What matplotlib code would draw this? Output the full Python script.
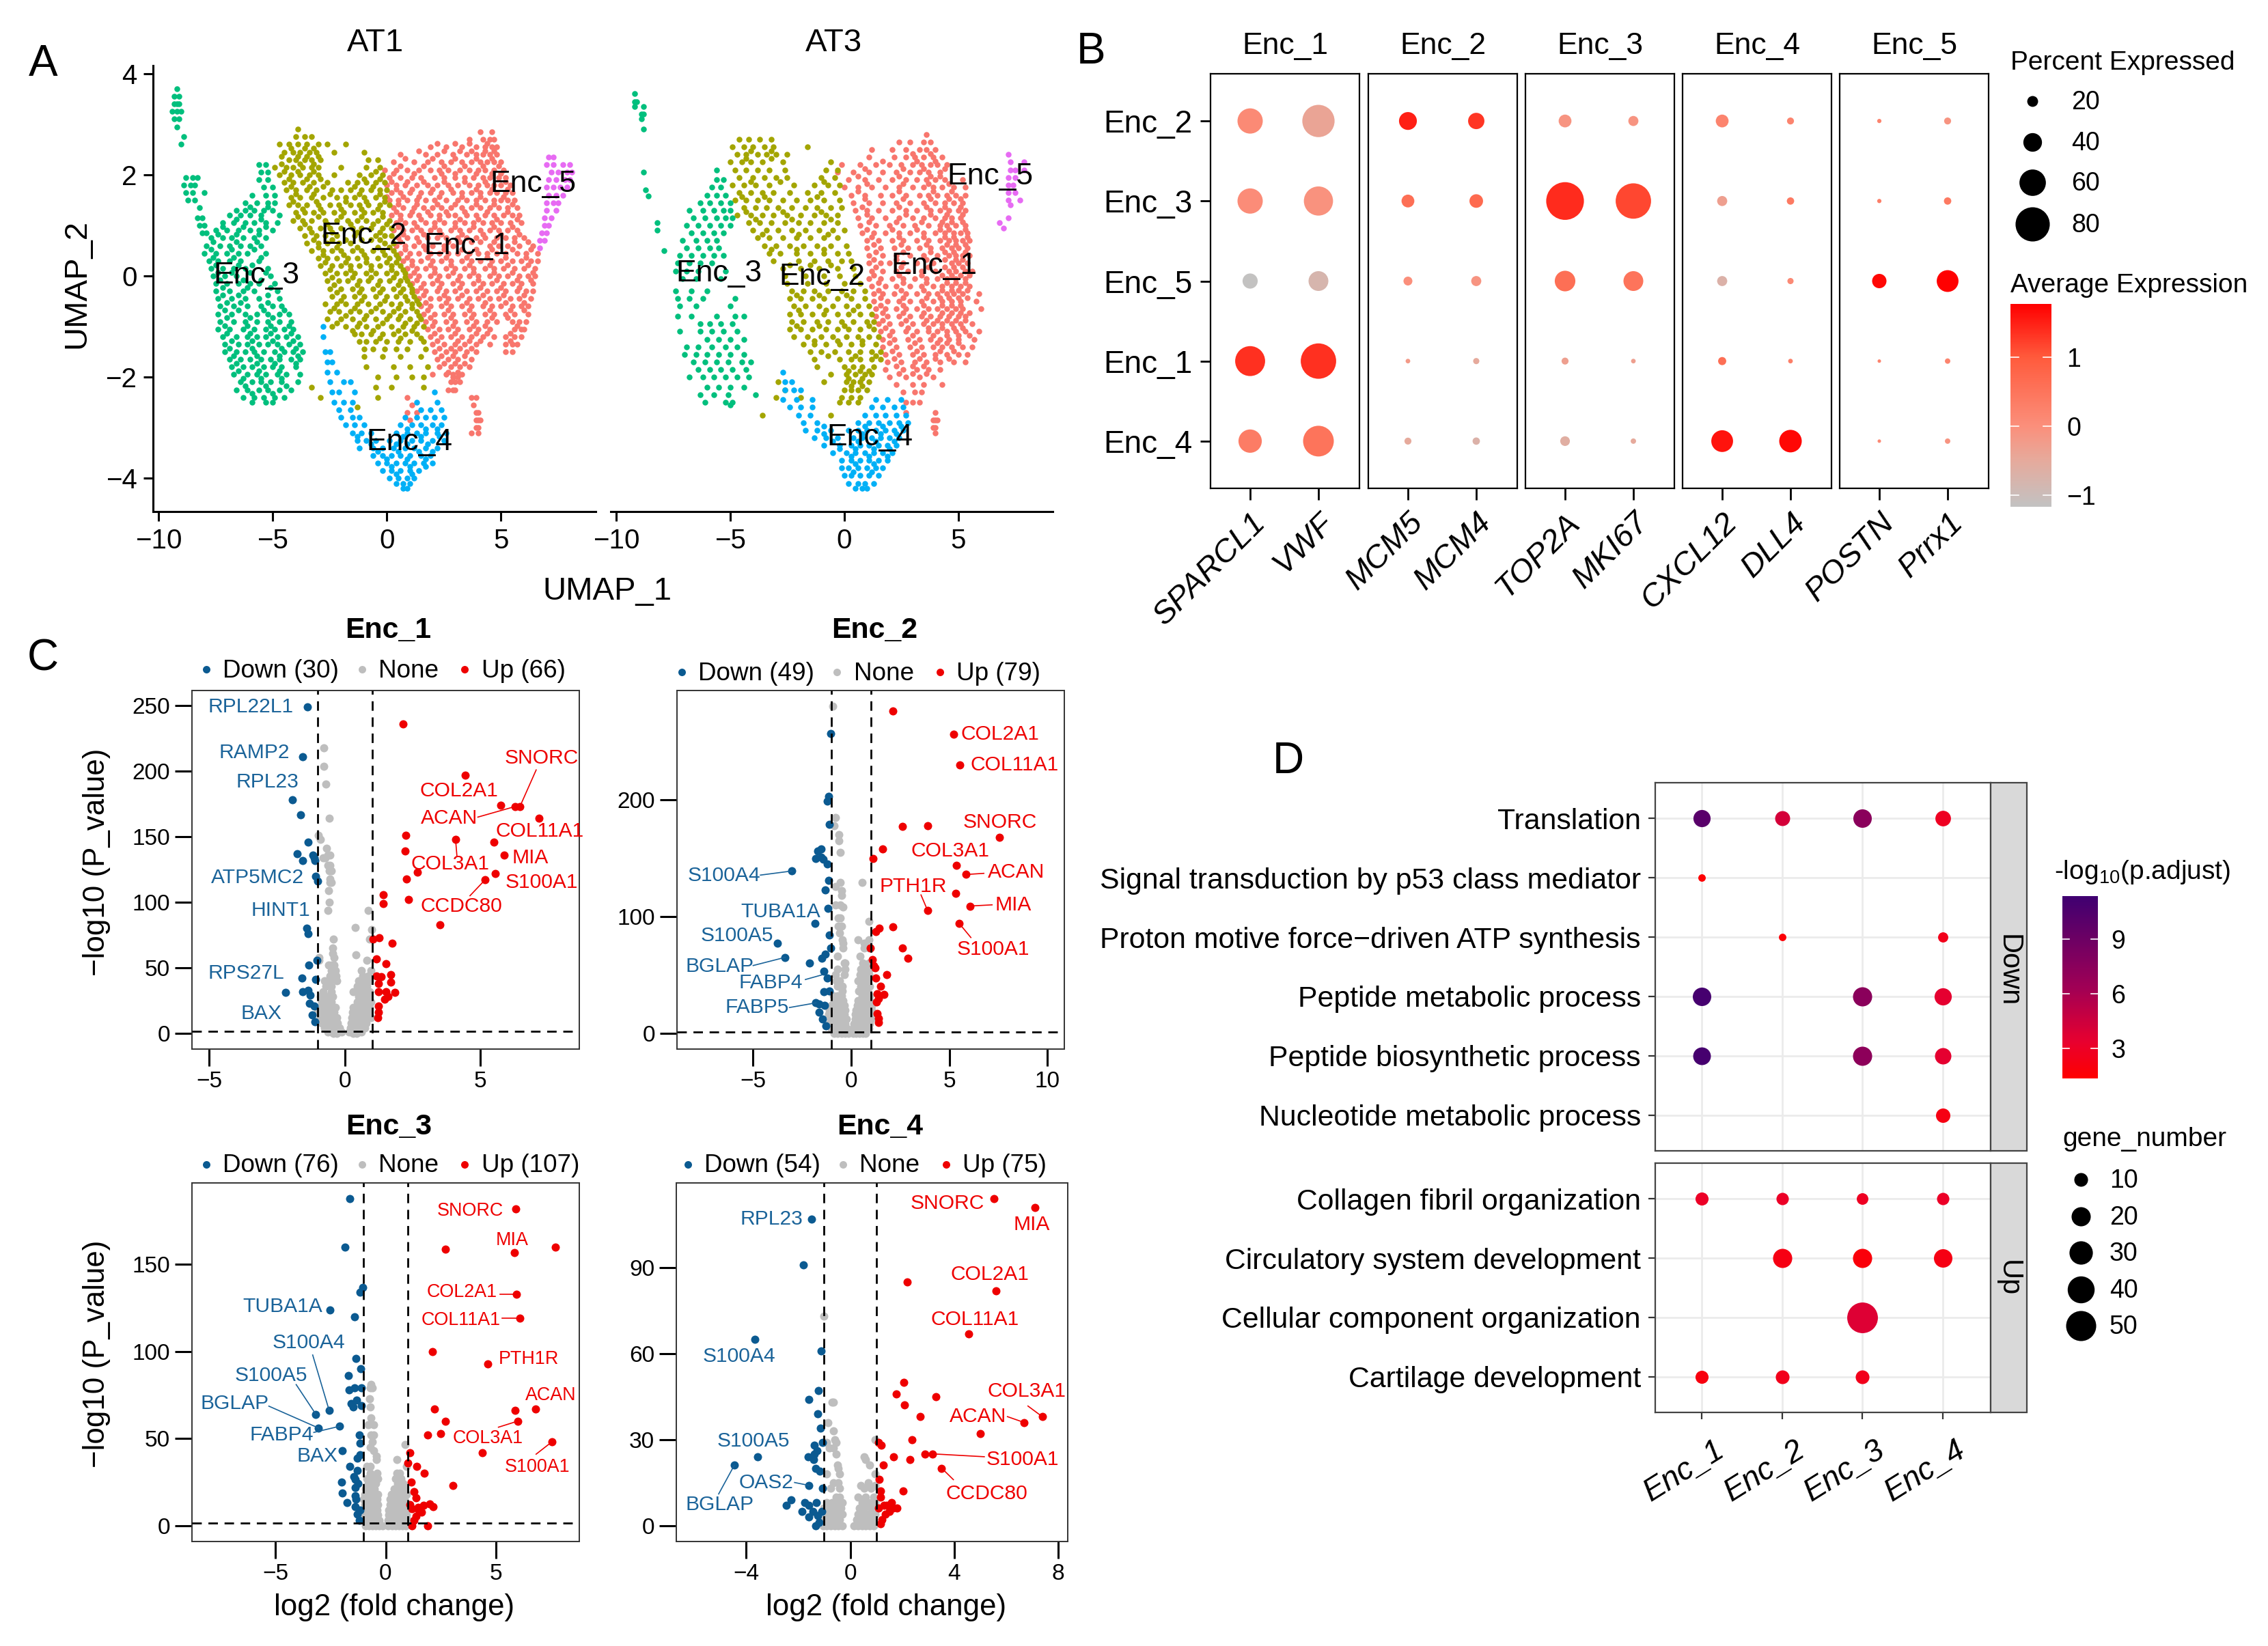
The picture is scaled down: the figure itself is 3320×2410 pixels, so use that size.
# plot.py
# Four panel figure: UMAP (A), marker dot plot (B), volcano plots (C), GO dot plot (D).

import numpy as np
import matplotlib
matplotlib.use("Agg")
import matplotlib.pyplot as plt
from matplotlib.cm import ScalarMappable
from matplotlib.colors import LinearSegmentedColormap, Normalize
from matplotlib.patches import Rectangle
from matplotlib.transforms import ScaledTranslation

plt.rcParams["font.family"] = ["Liberation Sans", "DejaVu Sans"]
plt.rcParams["mathtext.fontset"] = "custom"
plt.rcParams["mathtext.rm"] = "Liberation Sans"
plt.rcParams["mathtext.default"] = "regular"

W, H, DPI = 3320, 2410, 200

# ---- panel A, rows of {y: [x, ...]} ----
at1_enc1 = {
    2.85: [4.1, 4.6], 2.7: [3.6, 4.2, 4.5, 4.7], 2.55: [1.9, 2.6, 3.3, 3.9, 4.3, 4.6, 4.8],
    2.4: [0.6, 1.7, 2.2, 2.9, 3.5, 3.9, 4.2, 4.5, 4.8],
    2.25: [0.3, 1.2, 1.8, 2.4, 2.8, 3.3, 3.7, 4.1, 4.4, 4.7, 5.0],
    2.1: [-0.1, 0.4, 0.9, 1.4, 1.9, 2.3, 2.7, 3.2, 3.6, 4.0, 4.3, 4.7, 5.1],
    1.95: [0.1, 0.6, 1.1, 1.5, 2.1, 2.5, 3.0, 3.4, 3.8, 4.2, 4.5, 4.9, 5.2],
    1.8: [0.0, 0.4, 0.8, 1.3, 1.8, 2.2, 2.7, 3.1, 3.6, 4.0, 4.4, 4.7, 5.0, 5.4],
    1.65: [0.2, 0.6, 1.0, 1.5, 1.9, 2.4, 2.9, 3.3, 3.7, 4.1, 4.5, 4.8, 5.2, 5.5],
    1.5: [0.1, 0.5, 0.9, 1.3, 1.7, 2.1, 2.6, 3.1, 3.5, 3.9, 4.3, 4.7, 5.0, 5.3, 5.6],
    1.35: [0.3, 0.7, 1.2, 1.6, 2.0, 2.4, 2.8, 3.3, 3.7, 4.1, 4.5, 4.9, 5.3, 5.7],
    1.2: [0.2, 0.6, 1.0, 1.4, 1.9, 2.3, 2.7, 3.0, 3.5, 3.9, 4.3, 4.7, 5.1, 5.5, 5.8],
    1.05: [0.4, 0.8, 1.2, 1.7, 2.1, 2.5, 3.0, 3.4, 3.8, 4.2, 4.6, 5.0, 5.4, 5.9],
    0.9: [0.3, 0.7, 1.1, 1.5, 1.9, 2.3, 2.8, 3.2, 3.6, 4.1, 4.5, 4.9, 5.3, 5.7],
    0.75: [0.5, 0.9, 1.3, 1.8, 2.2, 2.6, 3.1, 3.5, 3.9, 4.3, 4.8, 5.2, 5.6, 6.0],
    0.6: [0.4, 0.8, 1.2, 1.6, 2.0, 2.5, 2.9, 4.5, 4.9, 5.3, 5.8, 6.4],
    0.45: [0.6, 1.0, 1.4, 1.9, 2.3, 2.7, 3.1, 3.6, 4.0, 4.4, 4.8, 5.2, 5.7, 6.1, 6.6],
    0.3: [0.7, 1.1, 1.5, 2.0, 2.4, 2.8, 3.3, 3.7, 4.1, 4.6, 5.0, 5.5, 5.9, 6.3, 6.6],
    0.15: [0.9, 1.3, 1.7, 2.1, 2.6, 3.0, 3.4, 3.8, 4.3, 4.7, 5.1, 5.6, 6.0, 6.5],
    0.0: [1.0, 1.4, 1.9, 2.3, 2.7, 3.2, 3.6, 4.0, 4.5, 4.9, 5.3, 5.8, 6.2, 6.5],
    -0.15: [1.1, 1.6, 2.0, 2.4, 2.9, 3.3, 3.8, 4.2, 4.6, 5.1, 5.5, 5.9, 6.4],
    -0.3: [1.3, 1.7, 2.2, 2.6, 3.0, 3.5, 3.9, 4.4, 4.8, 5.2, 5.7, 6.1, 6.4],
    -0.45: [1.4, 1.9, 2.3, 2.7, 3.1, 3.6, 4.0, 4.5, 4.9, 5.4, 5.8, 6.3],
    -0.6: [1.5, 1.9, 2.4, 2.8, 3.3, 3.7, 4.2, 4.6, 5.0, 5.5, 5.9, 6.2],
    -0.75: [1.6, 2.1, 2.5, 2.9, 3.4, 3.8, 4.3, 4.7, 5.2, 5.6, 6.2],
    -0.9: [1.7, 2.1, 2.6, 3.0, 3.5, 3.9, 4.4, 4.8, 5.5, 5.8, 6.1],
    -1.05: [1.8, 2.3, 2.7, 3.1, 3.6, 4.0, 4.5, 5.6, 5.9, 6.0],
    -1.2: [1.9, 2.4, 2.8, 3.3, 3.7, 4.2, 4.7, 5.2, 5.6, 5.9],
    -1.35: [2.0, 2.5, 3.0, 3.4, 3.9, 4.5, 5.2, 5.5, 5.7],
    -1.5: [2.1, 2.6, 3.0, 3.5, 3.9, 5.2, 5.5],
    -1.65: [2.2, 2.7, 3.1, 3.7], -1.8: [2.3, 2.8, 3.2, 3.6], -1.95: [2.0, 2.6, 2.9, 3.3],
    -2.1: [2.8, 3.0, 3.2], -2.25: [2.7, 2.9, 3.0], -2.4: [0.9, 3.7, 3.9], -2.55: [1.1, 3.8],
    -2.7: [0.9, 1.3, 3.9, 4.0], -2.85: [1.0, 3.9, 4.0, 4.1], -3.0: [3.9, 4.0], -3.1: [3.7, 4.0],
}
at1_enc1_fill = {
    2.62: [2.2, 3.0, 3.6, 4.4], 2.47: [1.4, 2.5, 3.2, 3.7, 4.3, 4.7], 2.32: [0.8, 2.0, 3.0, 3.9, 4.6], 2.17: [0.6, 1.6, 2.5, 3.4, 4.2, 4.9],
    2.02: [0.3, 1.2, 2.4, 3.0, 3.9, 4.6, 5.0], 1.87: [0.2, 0.9, 1.6, 2.5, 3.4, 4.3, 5.2], 1.72: [0.4, 1.1, 2.0, 2.8, 3.9, 4.6, 5.3],
    1.57: [0.0, 0.7, 1.4, 2.3, 3.3, 4.1, 5.1], 1.42: [0.5, 1.3, 2.2, 3.0, 3.9, 4.7, 5.5], 1.27: [0.4, 1.1, 1.8, 2.6, 3.4, 4.4, 5.3],
    1.12: [0.6, 1.5, 2.3, 3.2, 4.0, 4.8, 5.7], 0.97: [0.5, 1.3, 2.1, 3.0, 3.8, 4.7, 5.5], 0.82: [0.7, 1.6, 2.4, 3.3, 4.2, 5.0, 5.8],
    0.67: [0.6, 1.4, 2.7, 3.2, 3.7, 4.1, 4.7, 5.6, 6.2], 0.52: [0.8, 1.7, 2.5, 3.3, 3.9, 4.6, 5.5, 6.3], 0.37: [0.9, 1.8, 2.6, 3.5, 4.4, 5.2, 6.1],
    0.22: [1.1, 1.9, 2.8, 3.6, 4.5, 5.3, 6.2], 0.07: [1.2, 2.1, 2.9, 3.8, 4.7, 5.5, 6.4], -0.08: [1.3, 2.2, 3.1, 4.0, 4.8, 5.7, 6.3],
    -0.23: [1.5, 2.3, 3.2, 4.1, 5.0, 5.8], -0.38: [1.6, 2.5, 3.3, 4.2, 5.1, 6.0], -0.53: [1.7, 2.6, 3.5, 4.3, 5.2, 6.0], -0.68: [1.8, 2.7, 3.6, 4.5, 5.4, 6.0],
    -0.83: [1.9, 2.8, 3.7, 4.6, 5.3], -0.98: [2.0, 2.9, 3.8, 4.3, 5.7], -1.13: [2.1, 3.0, 3.9, 4.4, 5.4], -1.28: [2.2, 3.1, 3.6, 4.1, 5.4],
    -1.43: [2.3, 2.8, 3.2, 3.7], -1.58: [2.4, 2.9, 3.4], -1.73: [2.5, 3.0, 3.4], -1.9: [2.7, 3.1], -2.0: [2.9, 3.1],
}
at1_enc2 = {
    2.9: [-3.9], 2.75: [-4.0, -3.6, -3.3], 2.6: [-4.7, -4.3, -3.9, -3.5, -3.0, -2.6, -1.8],
    2.45: [-4.5, -4.1, -3.8, -3.4, -3.1, -2.3, -1.0], 2.3: [-4.3, -4.0, -3.6, -3.3, -2.9, -0.8, -0.4],
    2.15: [-4.9, -4.4, -4.1, -3.7, -3.3, -3.0, -2.0, -0.9, -0.3], 2.0: [-4.7, -4.2, -3.8, -3.4, -3.0, -2.3, -1.2, -0.7, -0.2],
    1.85: [-4.5, -4.1, -3.7, -3.2, -2.6, -1.7, -1.3, -0.9, -0.5, -0.1],
    1.7: [-4.4, -4.0, -3.5, -3.1, -2.4, -2.0, -1.6, -1.1, -0.7, -0.3, 0.0],
    1.55: [-4.2, -3.8, -3.3, -2.8, -2.2, -1.8, -1.4, -1.0, -0.5, -0.1],
    1.4: [-4.3, -3.9, -3.5, -3.0, -2.5, -2.1, -1.6, -1.2, -0.8, -0.3, 0.1],
    1.25: [-4.0, -3.6, -3.2, -2.8, -2.3, -1.9, -1.4, -1.0, -0.6, -0.2],
    1.1: [-4.1, -3.7, -3.3, -2.7, -2.2, -1.7, -1.3, -0.9, -0.4, 0.1],
    0.95: [-3.8, -3.4, -2.9, -2.5, -2.0, -1.5, -1.1, -0.7, -0.2, 0.2],
    0.8: [-3.6, -3.1, -2.7, -2.2, -1.4, -0.1, -0.5, 0.2], 0.65: [-3.5, -3.0, -2.6, -2.1, -1.6, -0.1, 0.3],
    0.5: [-3.3, -2.8, -2.4, -2.0, -1.5, -1.1, -0.6, -0.2, 0.3],
    0.35: [-3.0, -2.6, -2.2, -1.7, -1.3, -0.9, -0.4, 0.1, 0.5],
    0.2: [-2.9, -2.4, -2.0, -1.6, -1.2, -0.7, -0.3, 0.2, 0.6],
    0.05: [-2.7, -2.2, -1.8, -1.4, -0.9, -0.5, 0.0, 0.4, 0.8],
    -0.1: [-2.6, -2.1, -1.7, -1.2, -0.8, -0.3, 0.1, 0.6, 0.9],
    -0.25: [-2.5, -2.0, -1.5, -1.1, -0.6, -0.2, 0.3, 0.7, 1.1],
    -0.4: [-2.4, -1.9, -1.4, -1.0, -0.5, 0.0, 0.4, 0.8, 1.2],
    -0.55: [-2.7, -2.2, -1.8, -1.3, -0.8, -0.3, 0.2, 0.6, 1.1, 1.4],
    -0.7: [-2.5, -2.1, -1.6, -1.2, -0.7, -0.2, 0.3, 0.8, 1.3],
    -0.85: [-2.6, -2.0, -1.5, -1.0, -0.5, 0.0, 0.5, 1.0, 1.5],
    -1.0: [-2.4, -1.8, -1.3, -0.9, -0.4, 0.2, 0.7, 1.2, 1.6],
    -1.15: [-1.4, -1.1, -0.7, -0.2, 0.3, 0.8, 1.3], -1.3: [-1.2, -0.9, -0.5, 0.0, 0.5, 1.0, 1.6],
    -1.45: [-1.0, -0.6, -0.1, 0.4, 0.9, 1.7], -1.6: [-1.0, -0.2, 0.6, 1.5], -1.8: [-0.9, 0.3, 1.0, 1.8],
    -2.0: [-0.4, 0.4, 1.1, 1.6], -2.2: [-3.3, -0.5, 0.2, 1.6], -2.4: [-2.9, -0.4], -2.6: [-1.3],
}
at1_enc2_fill = {
    2.52: [-4.2, -3.6, -3.2], 2.37: [-4.6, -3.9, -3.5, -3.0], 2.22: [-4.6, -3.8, -3.2], 2.07: [-4.5, -3.9, -3.2, -0.5], 1.92: [-4.3, -3.5, -2.9, -1.0, -0.3],
    1.77: [-4.2, -3.4, -2.8, -1.4, -0.6], 1.62: [-4.0, -3.2, -2.5, -1.2, -0.3], 1.47: [-4.1, -3.1, -1.8, -0.9, -0.1], 1.32: [-3.7, -2.9, -2.0, -1.1, -0.4],
    1.17: [-3.9, -3.0, -2.0, -1.1, -0.2], 1.02: [-3.6, -2.6, -1.6, -0.6, 0.0], 0.87: [-3.3, -2.4, -1.3, -0.3], 0.72: [-3.2, -2.4, -1.8, -1.1, -0.7, -0.3],
    0.57: [-3.0, -2.2, -1.3, -0.4, 0.1], 0.42: [-2.8, -1.9, -1.0, -0.1, 0.4], 0.27: [-2.7, -1.8, -0.9, 0.0, 0.4], 0.12: [-2.5, -1.6, -0.7, 0.2, 0.7],
    -0.03: [-2.4, -1.5, -0.7, 0.3, 0.8], -0.18: [-2.3, -1.3, -0.4, 0.5, 1.0], -0.33: [-2.2, -1.2, -0.3, 0.6, 1.1], -0.48: [-2.0, -1.1, -0.1, 0.9, 1.3],
    -0.63: [-2.3, -1.4, -0.5, 0.5, 1.1], -0.78: [-1.8, -0.9, 0.1, 0.6, 1.4], -0.93: [-2.2, -1.2, -0.2, 0.8, 1.3], -1.08: [-1.5, -0.6, 0.5, 1.1], -1.23: [-0.3, 0.6, 1.5],
}
at1_enc3 = {
    3.7: [-9.2], 3.55: [-9.3, -9.1], 3.4: [-9.3, -9.2, -9.1], 3.25: [-9.4, -9.2, -9.0],
    3.1: [-9.3, -9.1], 2.95: [-9.2], 2.75: [-8.9], 2.6: [-9.0],
    1.95: [-8.8, -8.5, -8.3], 1.8: [-8.9, -8.6, -8.4], 1.65: [-8.8, -8.5, -8.0], 1.5: [-8.7, -8.4], 1.35: [-8.2],
    1.15: [-8.3, -8.1], 1.0: [-8.2, -8.0], 0.85: [-8.1, -7.9],
    2.2: [-5.6, -5.3], 2.05: [-5.5, -5.2], 1.9: [-5.6, -5.2], 1.75: [-5.4, -5.0], 1.6: [-5.9, -5.3, -4.9],
    1.45: [-6.2, -5.7, -5.2, -4.9], 1.3: [-6.6, -6.2, -5.8, -5.4, -5.0], 1.2: [-6.9, -6.4, -6.0, -5.5, -4.7],
    1.05: [-7.2, -6.7, -6.2, -5.8, -5.3, -4.8], 0.9: [-7.5, -7.0, -6.5, -6.0, -5.6, -5.0],
    0.75: [-7.7, -7.2, -6.8, -6.3, -5.8, -5.3], 0.6: [-7.9, -7.3, -6.9, -6.4, -6.0, -5.5],
    0.45: [-8.0, -7.5, -7.0, -6.5, -6.1, -5.3], 0.3: [-7.8, -7.4, -6.9, -6.4, -5.6], 0.15: [-7.7, -7.2, -6.7, -6.2, -5.2],
    0.0: [-7.6, -7.1, -6.6, -5.1], -0.15: [-7.5, -7.0, -6.5, -6.0, -5.6, -4.9], -0.3: [-7.5, -6.9, -6.3, -5.8, -4.8],
    -0.45: [-7.4, -6.8, -6.2, -5.6, -4.7], -0.6: [-7.3, -6.7, -6.1, -5.5, -5.0, -4.6],
    -0.75: [-7.4, -6.8, -6.2, -5.7, -5.2, -4.7, -4.3], -0.9: [-7.3, -6.7, -6.2, -5.7, -5.2, -4.7, -4.2],
    -1.05: [-7.4, -6.9, -6.3, -5.8, -5.3, -4.9, -4.5, -4.1], -1.2: [-7.2, -6.6, -6.1, -5.7, -5.3, -4.8, -4.4, -3.9],
    -1.35: [-7.1, -6.5, -6.1, -5.6, -5.2, -4.8, -4.3, -3.8], -1.5: [-7.1, -6.6, -6.2, -5.8, -5.4, -4.9, -4.5, -4.1, -3.7],
    -1.65: [-6.9, -6.4, -6.0, -5.5, -5.1, -4.7, -4.2, -3.8], -1.8: [-6.8, -6.3, -5.9, -5.4, -5.0, -4.6, -4.0],
    -1.95: [-6.7, -6.1, -5.7, -5.3, -4.8, -4.4, -3.8], -2.1: [-6.4, -5.9, -5.5, -5.1, -4.6, -3.9],
    -2.25: [-6.6, -6.1, -5.6, -5.2, -4.7, -4.2], -2.4: [-6.3, -5.8, -5.4, -4.9, -4.5], -2.5: [-5.9, -5.3, -5.0],
}
at1_enc3_fill = {
    1.37: [-6.0, -5.2], 1.12: [-6.6, -5.5], 0.97: [-7.2, -6.3, -5.3], 0.82: [-7.4, -6.6, -5.6], 0.67: [-7.6, -6.6, -5.7], 0.52: [-7.7, -6.8, -5.8],
    0.37: [-7.6, -6.7, -5.5], 0.22: [-7.5, -6.5, -5.9], 0.07: [-7.4, -6.8, -6.0, -5.3], -0.08: [-7.3, -6.3, -5.5], -0.23: [-7.2, -6.1, -5.1], -0.38: [-7.2, -6.5, -5.2],
    -0.53: [-7.0, -6.4, -5.2], -0.68: [-7.1, -6.5, -5.4, -4.5], -0.83: [-7.0, -6.0, -5.0], -0.98: [-7.1, -6.1, -5.1, -4.3], -1.13: [-7.0, -6.0, -5.1, -4.2],
    -1.28: [-6.8, -5.9, -5.0, -4.1], -1.43: [-6.9, -5.9, -4.6, -4.0], -1.58: [-6.7, -5.7, -4.7, -3.9], -1.73: [-6.6, -5.7, -4.9, -4.0], -1.88: [-6.5, -5.6, -4.7],
    -2.03: [-6.3, -5.5, -4.6], -2.18: [-6.2, -5.3, -4.4], -2.33: [-5.9, -5.0],
}
at1_enc4 = {
    -1.0: [-2.8], -1.2: [-2.8], -1.5: [-2.7, -2.5], -1.7: [-2.6, -2.4], -1.9: [-2.6, -2.2], -2.1: [-2.5, -1.9, -1.6],
    -2.3: [-2.4, -2.1, -1.4, 2.1], -2.5: [-2.3, -1.9, -1.5, 1.3, 2.2], -2.65: [-2.1, -1.6, 1.5, 1.9, 2.4],
    -2.8: [-2.0, -1.5, -1.2, 0.8, 1.3, 1.7, 2.1, 2.5], -2.95: [-1.8, -1.4, -1.0, 0.6, 1.1, 1.5, 2.0, 2.4],
    -3.1: [-1.5, -1.1, -0.7, 0.4, 0.9, 1.3, 1.7, 2.2, 2.6], -3.25: [-1.3, -0.9, -0.5, 0.1, 0.6, 1.1, 1.5, 2.0, 2.5],
    -3.4: [-1.2, -0.6, -0.2, 0.3, 0.8, 1.2, 1.7, 2.2], -3.55: [-0.6, -0.2, 0.2, 0.6, 1.0, 1.5, 1.9],
    -3.7: [-0.4, 0.0, 0.4, 0.8, 1.2, 1.6, 2.0], -3.85: [-0.2, 0.2, 0.6, 1.0, 1.4], -4.0: [0.1, 0.5, 0.9, 1.2],
    -4.1: [0.4, 0.7, 1.0], -4.2: [0.7, 0.9],
    -3.02: [0.9, 1.7, 2.2], -3.17: [-1.3, 0.7, 1.5, 2.3], -3.32: [-0.7, 0.4, 0.9, 1.8], -3.47: [-0.4, 0.5, 1.4, 2.0], -3.62: [0.0, 0.9, 1.7], -3.77: [0.2, 1.0, 1.7], -3.92: [0.4, 1.1],
}
at1_enc5 = {
    2.35: [7.1, 7.3], 2.2: [7.0, 7.3, 7.7, 8.0], 2.05: [7.2, 7.5, 7.9, 8.1], 1.9: [7.1, 7.4, 7.8, 8.0],
    1.75: [7.0, 7.3, 7.6, 7.9], 1.6: [7.1, 7.4, 7.7], 1.45: [7.0, 7.3, 7.5], 1.3: [7.0, 7.4], 1.15: [6.9, 7.2],
    1.0: [6.9, 7.1], 0.85: [6.8, 7.0], 0.7: [6.7, 6.9], 0.55: [6.7],
}

at3_enc1 = {
    2.8: [3.6], 2.65: [2.4, 2.9, 3.5, 3.8], 2.5: [1.2, 2.1, 2.7, 3.3, 3.6, 4.0], 2.35: [1.1, 2.2, 2.7, 3.1, 3.5, 3.9, 4.3],
    2.2: [-0.1, 0.7, 1.4, 2.0, 2.5, 3.0, 3.4, 3.8, 4.1, 4.5], 2.05: [-0.3, 0.4, 1.1, 1.7, 2.3, 2.9, 3.3, 3.7, 4.2],
    1.9: [0.2, 0.9, 1.5, 2.1, 2.7, 3.2, 3.6, 4.0, 4.4, 5.2], 1.75: [0.0, 0.6, 1.2, 1.8, 2.4, 3.0, 3.5, 3.9, 4.3, 4.8, 5.3],
    1.6: [0.3, 0.9, 1.6, 2.1, 2.7, 3.3, 3.7, 4.1, 4.5, 4.9, 5.3], 1.45: [0.4, 1.1, 1.7, 2.3, 2.9, 3.5, 4.0, 4.4, 4.8, 5.2],
    1.3: [0.5, 1.0, 1.5, 2.1, 2.7, 3.2, 3.8, 4.2, 4.6, 5.0, 5.3], 1.15: [0.6, 1.2, 1.8, 2.4, 3.0, 3.5, 4.0, 4.4, 4.7, 5.1],
    1.0: [0.7, 1.4, 2.0, 2.6, 3.1, 3.7, 4.2, 4.5, 4.9, 5.3], 0.85: [0.8, 1.3, 1.8, 2.4, 2.9, 3.5, 4.0, 4.4, 4.8, 5.1, 5.4],
    0.7: [1.0, 1.5, 2.1, 2.6, 3.2, 3.7, 4.2, 4.6, 4.9, 5.2, 5.5], 0.55: [1.0, 1.6, 2.2, 2.8, 3.3, 3.8, 4.3, 4.7, 5.0, 5.4],
    0.4: [1.1, 1.7, 2.3, 2.9, 3.5, 4.1, 4.6, 4.9, 5.2, 5.5], 0.25: [1.1, 1.6, 2.0, 2.6, 3.2, 3.9, 4.7, 5.0, 5.4], 0.1: [1.2, 1.7, 2.3, 2.8, 3.4, 4.0, 4.6, 4.9, 5.3, 5.6],
    -0.05: [1.1, 1.6, 2.1, 2.6, 3.1, 3.6, 4.1, 4.5, 4.9, 5.3], -0.2: [1.2, 1.8, 2.3, 2.9, 3.4, 3.9, 4.3, 4.7, 5.1, 5.5],
    -0.35: [1.3, 1.7, 2.2, 2.7, 3.2, 3.7, 4.1, 4.5, 4.8, 5.2, 5.9], -0.5: [1.3, 1.9, 2.4, 2.9, 3.4, 3.9, 4.3, 4.7, 5.1, 5.8],
    -0.65: [1.4, 1.8, 2.3, 2.7, 3.2, 3.7, 4.1, 4.5, 4.9, 5.2, 6.0], -0.8: [1.4, 1.9, 2.4, 2.9, 3.4, 3.8, 4.2, 4.6, 5.0, 5.3],
    -0.95: [1.5, 2.0, 2.5, 3.0, 3.5, 3.9, 4.3, 4.7, 5.1, 5.6], -1.1: [1.6, 2.1, 2.7, 3.2, 3.7, 4.1, 4.5, 4.9, 5.3, 5.9],
    -1.25: [1.7, 2.2, 2.8, 3.3, 3.8, 4.2, 4.6, 5.0, 5.7], -1.4: [1.7, 2.3, 2.9, 3.4, 3.9, 4.3, 4.7, 5.2, 5.6],
    -1.55: [1.8, 2.4, 3.0, 3.5, 4.0, 4.5, 5.0, 5.4], -1.7: [1.9, 2.5, 3.1, 3.6, 4.2, 4.8, 5.3], -1.85: [1.8, 2.6, 3.2, 3.7, 4.2],
    -2.0: [2.0, 2.7, 3.3, 3.9], -2.15: [2.3, 3.0, 3.5, 4.3], -2.3: [2.6, 3.1, 3.4], -2.5: [2.7, 3.0, 3.3], -2.7: [2.7, 4.0],
    -2.85: [3.9, 4.0, 4.1], -3.0: [3.9, 4.0], -3.1: [4.0],
}
at3_enc1_fill = {
    2.42: [3.0, 3.8], 2.27: [1.7, 3.2, 4.0], 2.12: [0.9, 2.6, 3.5, 4.4], 1.97: [0.6, 2.4, 3.8, 4.2], 1.82: [1.0, 2.6, 3.7, 4.6], 1.67: [0.6, 2.4, 3.9, 4.7],
    1.52: [0.9, 2.6, 3.8, 4.6, 5.1], 1.37: [0.8, 2.4, 3.6, 4.4, 5.1], 1.22: [1.0, 2.7, 3.8, 4.5, 5.2], 1.07: [1.1, 2.3, 3.4, 4.3, 4.7, 5.2], 0.92: [1.0, 2.1, 3.2, 4.2, 4.6, 5.3],
    0.77: [1.2, 2.4, 3.5, 4.4, 4.8, 5.4], 0.62: [1.3, 2.5, 3.6, 4.5, 4.9, 5.3], 0.47: [1.4, 2.6, 3.8, 4.4, 4.8, 5.3], 0.32: [1.3, 2.3, 3.6, 4.4, 4.9, 5.2], 0.17: [1.4, 2.5, 3.7, 4.4, 4.8, 5.2],
    0.02: [1.3, 2.4, 3.4, 4.3, 4.7, 5.1, 5.5], -0.13: [1.5, 2.6, 3.6, 4.5, 4.9, 5.3], -0.28: [1.5, 2.5, 3.5, 4.3, 4.7, 5.0, 5.4], -0.43: [1.6, 2.6, 3.6, 4.2, 4.6, 5.0, 5.4],
    -0.58: [1.6, 2.6, 3.5, 4.3, 4.7, 5.1], -0.73: [1.7, 2.6, 3.5, 4.3, 4.7, 5.1, 5.5], -0.88: [1.7, 2.7, 3.6, 4.1, 4.5, 4.9, 5.3], -1.03: [1.8, 2.8, 3.7, 4.3, 4.8, 5.2],
    -1.18: [2.0, 3.0, 3.9, 4.5, 5.0, 5.5], -1.33: [2.0, 3.1, 4.1, 4.5, 5.0], -1.48: [2.1, 3.2, 4.2, 4.8], -1.63: [2.2, 3.3, 4.0, 4.6], -1.78: [2.3, 3.0, 3.5], -1.93: [2.4, 3.0, 3.6],
}
at3_enc2 = {
    2.7: [-4.6, -4.2, -3.7, -3.2], 2.55: [-4.9, -4.4, -4.0, -3.5, -3.1, -1.6], 2.4: [-4.7, -4.3, -3.8, -3.4, -3.0, -2.5],
    2.25: [-5.0, -4.5, -4.1, -3.6, -2.7, -0.6], 2.1: [-4.8, -4.3, -3.8, -3.3, -2.6, -0.8, -0.3],
    1.95: [-4.6, -4.0, -3.5, -3.0, -2.5, -1.0, -0.4], 1.8: [-4.9, -4.4, -3.9, -3.3, -2.2, -1.3, -0.7, -0.2],
    1.65: [-4.6, -4.1, -3.6, -3.1, -2.4, -1.6, -1.0, -0.4], 1.5: [-4.8, -4.3, -3.8, -3.3, -2.7, -2.1, -1.5, -0.9, -0.2],
    1.35: [-4.4, -3.9, -3.4, -2.9, -2.3, -1.7, -1.2, -0.6, -0.1], 1.2: [-4.7, -4.1, -3.6, -3.1, -2.5, -1.9, -1.3, -0.8, -0.3],
    1.05: [-4.2, -3.7, -3.2, -2.6, -2.0, -1.5, -0.9, -0.3], 0.9: [-4.0, -3.4, -2.9, -2.3, -1.7, -1.1, -0.5, 0.0],
    0.75: [-3.8, -3.3, -2.7, -2.1, -1.5, -0.9, -0.3], 0.6: [-3.5, -3.0, -2.4, -1.8, -1.2, -0.6, 0.1],
    0.45: [-3.3, -2.8, -2.1, -1.5, -0.9, -0.3, 0.2], 0.3: [-3.1, -2.0, -1.3, -0.7, -0.1, 0.3], 0.15: [-2.7, -1.9, -1.1, -0.3, 0.4],
    0.0: [-2.6, -1.7, -0.9, -0.2, 0.5], -0.15: [-2.5, -1.6, -0.8, 0.0, 0.7],
    -0.3: [-2.3, -1.8, -1.3, -0.7, -0.1, 0.4, 0.9], -0.45: [-2.4, -1.9, -1.4, -0.9, -0.3, 0.3, 0.9],
    -0.6: [-2.2, -1.7, -1.1, -0.5, 0.1, 0.6, 1.1], -0.75: [-2.4, -1.9, -1.4, -0.9, -0.3, 0.2, 0.7, 1.2],
    -0.9: [-2.3, -1.8, -1.2, -0.7, -0.1, 0.4, 1.0, 1.3], -1.05: [-2.4, -1.9, -1.4, -0.8, -0.3, 0.2, 0.7, 1.3],
    -1.2: [-2.2, -1.6, -1.0, -0.5, 0.1, 0.6, 1.1, 1.5], -1.35: [-1.8, -1.3, -0.8, -0.2, 0.3, 0.8, 1.4],
    -1.5: [-1.5, -1.0, -0.4, 0.2, 0.7, 1.2, 1.6], -1.65: [-1.3, -0.2, 0.3, 0.7, 1.2, 1.6], -1.8: [-1.2, 0.0, 0.4, 0.8, 1.3],
    -1.95: [-0.6, 0.1, 0.5, 0.9, 1.2], -2.1: [-2.9, -0.9, 0.1, 0.4, 0.7, 1.1], -2.25: [-2.6, 0.0, 0.3, 0.6, 1.0],
    -2.4: [-3.0, -1.9, -0.1, 0.3, 0.7], -2.5: [-0.2, 0.2, 0.6], -2.75: [-3.6, -0.6],
}
at3_enc2_fill = {
    2.47: [-4.1, -3.2], 2.32: [-4.3, -3.2], 1.87: [-4.1, -2.8, -0.9], 1.57: [-4.5, -3.5, -1.2], 1.27: [-4.3, -2.7, -1.0], 1.12: [-3.9, -2.3, -0.6], 0.82: [-3.6, -2.0, -0.7],
    0.52: [-3.2, -2.1, -0.9], 0.22: [-2.4, -1.5, -0.6], -0.38: [-2.1, -1.1, 0.1], -0.68: [-2.0, -0.8, 0.4], -0.98: [-2.1, -1.1, 0.0, 1.1], -1.28: [-1.3, -0.3, 0.8],
    -1.58: [-0.7, 0.5, 1.4], -1.88: [0.2, 0.7, 1.1], -2.18: [0.3, 0.8], -2.03: [0.2, 0.8],
}
at3_enc3 = {
    3.6: [-9.2], 3.45: [-9.2, -9.1], 3.35: [-9.2, -8.8], 3.2: [-8.9, -8.8], 3.1: [-8.9], 2.9: [-8.8],
    2.05: [-8.8], 1.7: [-8.7], 1.58: [-8.6], 1.05: [-8.2], 0.9: [-8.2], 0.5: [-7.9],
    2.1: [-5.6], 1.9: [-5.6, -5.3], 1.75: [-5.8, -5.4], 1.6: [-6.0, -5.6, -5.2], 1.45: [-6.3, -5.9, -5.4, -5.0],
    1.3: [-6.8, -6.2, -5.7, -5.3, -5.0], 1.15: [-6.6, -6.1, -5.6, -5.2, -4.9], 1.0: [-6.9, -6.4, -5.9, -5.4, -5.0],
    0.85: [-6.7, -6.2, -5.7, -5.3], 0.7: [-7.1, -6.5, -6.0, -5.6], 0.55: [-6.9, -6.4, -5.9, -5.5],
    0.4: [-7.2, -6.7, -6.2, -5.7, -5.3], 0.25: [-7.3, -6.8, -6.3, -5.8], 0.1: [-7.4, -6.9, -6.4, -5.2],
    -0.05: [-7.1, -6.5, -5.4], -0.3: [-7.4, -6.7, -6.0], -0.45: [-7.3, -6.8, -6.2, -4.8], -0.6: [-7.2, -6.5, -5.0],
    -0.8: [-7.3, -6.7, -5.6, -4.8, -4.4], -0.95: [-6.3, -5.9, -5.4, -4.9], -1.1: [-7.2, -6.3, -5.8, -5.3, -4.7],
    -1.25: [-6.0, -5.5, -5.0, -4.4], -1.4: [-6.9, -6.4, -5.8, -5.2, -4.7], -1.55: [-7.0, -6.5, -6.0, -5.5, -5.0, -4.4],
    -1.7: [-6.6, -6.1, -5.6, -5.1, -4.5, -4.1], -1.85: [-6.4, -5.9, -5.4, -4.9, -4.3], -2.0: [-6.8, -6.2, -5.7, -5.2, -4.7, -4.2],
    -2.2: [-6.0, -5.5, -5.0, -4.4], -2.35: [-6.3, -5.7, -5.1, -3.9], -2.5: [-6.1, -5.2, -4.9], -2.55: [-5.0],
}
at3_enc4 = {
    -1.9: [-2.7], -2.1: [-2.6, -2.3], -2.25: [-2.6, -2.2, -1.9], -2.45: [-2.7, -2.1, -1.4, 1.4, 1.9, 2.5],
    -2.6: [-2.4, -1.9, -1.4, 1.2, 1.7, 2.2, 2.6], -2.75: [-2.0, -1.5, 0.9, 1.4, 1.8, 2.3, 2.7],
    -2.9: [-1.8, -1.2, 0.6, 1.1, 1.5, 2.0, 2.4, 2.8], -3.05: [-1.7, -1.2, -0.6, 0.2, 0.6, 1.0, 1.4, 1.8, 2.2, 2.6],
    -3.2: [-1.3, -0.8, -0.3, 0.4, 0.8, 1.2, 1.6, 2.0, 2.4], -3.35: [-0.9, -0.2, 0.3, 0.7, 1.1, 1.5, 1.9, 2.3],
    -3.5: [-0.5, 0.1, 0.5, 0.9, 1.3, 1.7, 2.1], -3.65: [-0.1, 0.3, 0.7, 1.1, 1.5, 1.9], -3.8: [-0.1, 0.2, 0.6, 1.0, 1.4, 1.7],
    -3.95: [0.0, 0.3, 0.7, 1.1, 1.5], -4.1: [0.2, 0.6, 0.9, 1.3], -4.2: [0.5, 0.8, 1.0],
    -2.97: [-0.9, 0.9, 1.7, 2.5], -3.12: [-0.9, 0.8, 1.6, 2.3], -3.27: [-0.5, 0.6, 1.4, 2.2], -3.42: [-0.2, 0.5, 1.3, 2.0], -3.57: [0.3, 1.1, 1.9], -3.72: [0.5, 1.3], -3.87: [0.4, 1.2],
}
at3_enc5 = {
    2.4: [7.2], 2.25: [7.3, 7.9], 2.1: [7.3, 7.5, 7.9], 1.95: [7.2, 7.5], 1.8: [7.2, 7.4], 1.65: [7.2, 7.5], 1.5: [7.2, 7.7],
    1.4: [7.3], 1.15: [7.2], 1.05: [6.8], 0.95: [7.0],
}
umap_labels_at1 = [("Enc_5", 6.41, 1.81), ("Enc_2", -1.0, 0.79), ("Enc_1", 3.5, 0.59), ("Enc_3", -5.7, 0.0), ("Enc_4", 1.0, -3.29)]
umap_labels_at3 = [("Enc_5", 6.4, 1.97), ("Enc_3", -5.5, 0.05), ("Enc_2", -0.98, -0.02), ("Enc_1", 3.96, 0.19), ("Enc_4", 1.13, -3.19)]

# ---- panel B ----
marker_clusters = ["Enc_1", "Enc_2", "Enc_3", "Enc_4", "Enc_5"]
marker_genes = ["SPARCL1", "VWF", "MCM5", "MCM4", "TOP2A", "MKI67", "CXCL12", "DLL4", "POSTN", "Prrx1"]
marker_rows = ["Enc_4", "Enc_1", "Enc_5", "Enc_3", "Enc_2"]
# each gene gives values for Enc_2, Enc_3, Enc_5, Enc_1, Enc_4
pct_expressed = [[57, 57, 31, 69, 52], [75, 67, 43, 83, 71], [38, 25, 15, 4, 10], [34, 27, 18, 8, 11], [25, 89, 45, 10, 17],
                 [18, 83, 43, 4, 6], [25, 18, 18, 13, 48], [10, 11, 8, 4, 50], [3, 3, 29, 1, 1], [10, 11, 48, 6, 6]]
avg_expression = [[0.1, 0.05, -1.15, 1.35, 0.35], [-0.4, -0.05, -0.8, 1.35, 0.5], [1.5, 0.6, 0.0, -0.2, -0.5],
                  [1.3, 0.7, -0.1, -0.5, -0.7], [-0.1, 1.4, 0.6, -0.3, -0.6], [-0.1, 1.15, 0.5, -0.3, -0.5],
                  [0.2, -0.3, -0.7, 0.6, 1.6], [0.2, 0.4, 0.1, 0.3, 1.7], [0.2, 0.3, 1.7, 0.2, 0.1], [-0.1, 0.4, 1.75, 0.2, -0.1]]
pct_legend = [20, 40, 60, 80]

# ---- panel C ----
enc1_down_x = [-1.39, -1.55, -1.94, -1.63, -1.36, -1.76, -1.18, -1.14, -1.55, -1.1, -1.08, -1.01, -1.4, -1.36, -1.03, -1.34, -1.59, -1.07, -2.2, -1.55, -1.36, -1.29, -1.31, -1.14, -1.2, -1.1]
enc1_down_y = [249, 211, 178, 167, 146, 137, 136, 134, 132, 132, 120, 116, 80, 76, 56, 52, 42, 41, 31, 32, 33, 29, 23, 21, 14, 9]
enc1_up_x = [2.15, 4.44, 5.75, 6.26, 6.45, 7.15, 2.24, 4.09, 5.49, 2.22, 5.87, 2.67, 5.55, 2.28, 5.16, 1.42, 1.4, 2.34, 3.5, 1.26, 1.03, 1.75, 1.16, 1.5, 1.7, 1.16, 1.34, 1.68, 1.24, 1.5, 1.85, 1.24, 1.6, 1.45, 1.24, 1.24, 1.21]
enc1_up_y = [236, 197, 174, 173, 173, 164, 151, 148, 146, 139, 136, 123, 122, 118, 117, 106, 99, 102, 83, 73, 72, 69, 57, 53, 45, 44, 43, 39, 38, 32, 31, 32, 28, 26, 21, 16, 12]
enc1_none = {
    218: [-0.77], 204: [-0.78], 190: [-0.71], 164: [-0.58], 151: [-0.97], 148: [-0.9], 141: [-0.68], 136: [-0.62, -0.55],
    134: [-0.8, -0.72], 128: [-0.55, -0.62], 124: [-0.58, -0.5], 118: [-0.55], 115: [-0.5, -0.55], 109: [-0.6], 100: [-0.58],
    94: [-0.62, 0.87], 81: [0.38], 79: [0.98], 72: [-0.42, 0.92], 65: [-0.45], 61: [-0.45], 60: [0.41], 58: [-0.4, -0.95],
    56: [-0.95, 0.8], 52: [-0.4, -0.5, -0.6], 48: [-0.35, -0.5, 0.6, 0.95], 44: [-0.4, -0.55, -0.32, 0.65, 0.85], 40: [-0.3, -0.55, -0.75, 0.5, 0.7, 0.9],
    36: [-0.5, -0.7, 0.45, 0.6, 0.8], 32: [-0.5, -0.8, 0.3, 0.45, 0.65, 0.9], 28: [-0.45, -0.65, -0.9, 0.5, 0.7, 0.85],
    24: [-0.5, -0.7, -0.85, 0.45, 0.6, 0.8, 0.95], 20: [-0.35, -0.5, -0.65, -0.8, -0.95, 0.3, 0.45, 0.6, 0.75, 0.9],
    16: [-0.4, -0.55, -0.7, -0.85, -1.0, 0.28, 0.4, 0.55, 0.7, 0.85], 12: [-0.3, -0.45, -0.6, -0.75, -0.9, 0.25, 0.38, 0.52, 0.66, 0.8, 0.95],
    8: [-0.28, -0.42, -0.56, -0.7, -0.85, 0.22, 0.35, 0.48, 0.62, 0.78], 4: [-0.2, -0.35, -0.5, -0.62, -0.75, 0.2, 0.32, 0.45, 0.6, 0.72],
    1: [-0.12, -0.25, -0.38, -0.5, -0.62, 0.15, 0.25, 0.38, 0.5, 0.6], 0: [-0.3, -0.42, 0.3, 0.42],
}
enc1_down_labels = [("RPL22L1", -3.48, 249), ("RAMP2", -3.34, 214), ("RPL23", -2.85, 192), ("ATP5MC2", -3.22, 119), ("HINT1", -2.36, 94), ("RPS27L", -3.63, 46), ("BAX", -3.09, 15)]
enc1_up_labels = [("SNORC", 7.24, 210), ("COL2A1", 4.2, 185), ("ACAN", 3.84, 164), ("COL11A1", 7.17, 154), ("COL3A1", 3.89, 129), ("MIA", 6.84, 134), ("S100A1", 7.24, 115), ("CCDC80", 4.29, 97)]
enc1_links = [("up", 7.05, 201, 6.45, 173), ("up", 4.9, 165, 6.26, 173), ("up", 4.13, 135, 4.09, 145), ("up", 4.61, 105, 5.16, 117)]

enc2_down_x = [-1.05, -1.15, -1.21, -1.11, -1.53, -1.7, -1.79, -1.53, -1.42, -1.2, -3.02, -1.16, -1.32, -1.18, -1.85, -1.1, -3.74, -1.03, -1.33, -1.48, -3.36, -2.12, -1.38, -1.23, -1.38, -1.11, -1.79, -1.62, -1.37, -1.62, -1.45, -1.28]
enc2_down_y = [257, 203, 199, 179, 158, 156, 150, 151, 149, 145, 139, 131, 123, 107, 94, 84, 77, 73, 68, 64, 65, 60, 53, 47, 35.5, 36, 26, 25, 24, 18, 12, 6.5]
enc2_up_x = [2.14, 5.21, 5.55, 2.61, 3.91, 7.54, 1.59, 1.11, 5.36, 5.85, 5.31, 6.05, 3.9, 5.51, 2.14, 1.43, 1.25, 2.63, 0.98, 2.88, 1.08, 1.16, 1.22, 1.82, 1.25, 1.5, 1.67, 1.33, 1.38, 1.28, 1.33, 1.38, 1.38]
enc2_up_y = [276, 256, 230, 177, 178, 168, 158, 150, 144, 136, 120, 109, 105, 94, 91, 90, 87, 73, 73, 64, 63, 58, 56, 50, 47, 40, 33.5, 34, 30, 27, 17, 13, 9]
enc2_none = {
    280: [-0.94], 185: [-0.81], 178: [-0.86], 170: [-0.64], 165: [-0.61], 155: [-0.54], 129: [-0.54, 0.56], 126: [-0.78], 122: [-0.5],
    118: [-0.47], 110: [-0.78, -0.55], 108: [-0.43], 99: [-0.65, -0.55], 96: [0.9], 92: [-0.65, -0.5], 86: [-0.6], 80: [-0.45, 0.35, 0.9],
    77: [-0.42, 0.65], 73: [-0.42, 0.65, 0.9], 66: [-0.7, 0.45], 60: [-0.3, -0.35, 0.9, 0.6], 55: [-0.3, -0.7, 0.5, 0.75, 0.95],
    50: [-0.8, -0.35, 0.45, 0.7, 0.9], 45: [-0.6, -0.75, 0.35, 0.6, 0.85], 40: [-0.45, -0.7, 0.5, 0.7, 0.95], 36: [-0.45, 0.4, 0.65, 0.85],
    32: [-0.5, -0.7, -0.9, 0.55, 0.75, 0.95], 28: [-0.4, -0.6, -0.85, 0.35, 0.55, 0.75, 0.95], 24: [-0.35, -0.55, -0.75, -1.0, 0.3, 0.5, 0.7, 0.9, 1.05],
    20: [-0.3, -0.5, -0.7, -0.9, -1.1, 0.25, 0.45, 0.65, 0.85, 1.05], 16: [-0.35, -0.55, -0.75, -0.95, -1.15, 0.2, 0.4, 0.6, 0.8, 1.0],
    12: [-0.25, -0.45, -0.65, -0.85, -1.05, 0.2, 0.4, 0.6, 0.8, 1.0], 8: [-0.3, -0.5, -0.7, -0.9, -1.1, 0.15, 0.35, 0.55, 0.75, 0.95],
    4: [-0.2, -0.4, -0.6, -0.8, -1.0, 0.12, 0.3, 0.5, 0.7, 0.9], 0: [-0.15, -0.3, -0.5, -0.7, -0.85, 0.1, 0.25, 0.42, 0.6, 0.75],
}
enc2_down_labels = [("S100A4", -6.46, 135), ("TUBA1A", -3.59, 104), ("S100A5", -5.8, 83.5), ("BGLAP", -6.68, 57), ("FABP4", -4.11, 43), ("FABP5", -4.79, 22)]
enc2_up_labels = [("COL2A1", 7.57, 256), ("COL11A1", 8.31, 230), ("SNORC", 7.57, 181), ("COL3A1", 5.04, 156), ("ACAN", 8.41, 138), ("PTH1R", 3.15, 126), ("MIA", 8.25, 110), ("S100A1", 7.22, 72)]
enc2_links = [("down", -4.62, 135.5, -3.02, 139), ("down", -4.99, 58, -3.36, 65), ("down", -2.33, 46, -1.48, 50), ("down", -3.14, 22, -1.79, 26),
              ("up", 6.76, 137, 5.85, 136), ("up", 3.56, 118.5, 3.9, 105), ("up", 7.18, 110, 6.05, 109), ("up", 6.1, 82, 5.51, 94)]

enc3_down_x = [-1.64, -1.83, -1.03, -1.16, -2.53, -1.42, -1.35, -1.14, -1.69, -1.65, -1.42, -1.09, -1.33, -1.57, -1.48, -1.09, -2.56, -3.17, -3.04, -2.1, -1.19, -1.16, -1.98, -1.15, -1.3, -1.64, -1.3, -1.39, -2.01, -1.39, -1.98, -1.39, -1.74, -1.39, -1.3, -1.2, -1.45, -1.25, -1.35, -1.15]
enc3_down_y = [188, 160, 137, 134, 124, 120, 96, 90, 86, 78, 79, 79, 72, 70, 68, 69, 66, 64, 56, 57, 52, 47.5, 43, 40.5, 38.5, 34, 31.5, 26.5, 25, 22, 18.6, 17, 13, 11, 6.4, 3, 28, 24, 15, 9]
enc3_up_x = [5.91, 7.69, 2.72, 5.85, 5.94, 6.09, 2.12, 4.64, 2.21, 6.81, 5.87, 2.7, 6.0, 1.92, 2.49, 7.54, 4.38, 1.09, 1.42, 1.74, 1.02, 3.06, 1.16, 1.28, 1.37, 2.17, 2.0, 1.73, 1.46, 1.2, 1.64, 1.37, 1.9, 1.2, 1.1, 1.3, 1.5]
enc3_up_y = [182, 160, 159, 157, 133, 119, 100, 93, 67, 67, 66, 60, 60, 52, 53, 48, 42, 42, 34, 30, 36, 23, 25, 19.5, 16, 11, 12.5, 11.5, 10.5, 9.5, 7.5, 5.5, 0, 0, 12, 3, 9]
enc3_none = {
    81: [-0.68], 79: [-0.62, -0.7], 73: [-0.72], 68: [-0.7], 62: [-0.66], 58: [-0.78, -0.55], 52: [-0.55, -0.68], 48: [-0.62], 46.5: [0.87],
    45: [-0.7], 43: [-0.55], 40: [-0.42], 38: [0.52, -0.42], 34: [0.96, -0.85, -0.7], 30: [-0.4, -0.7, 0.5, 0.65], 27: [-0.35, -0.6, -0.85, 0.45, 0.7],
    24: [-0.45, -0.65, -0.8, 0.55, 0.8], 21: [-0.5, -0.7, -0.9, 0.4, 0.65, 0.85], 18: [-0.35, -0.55, -0.75, -0.95, 0.25, 0.5, 0.75, 0.95],
    15: [-0.4, -0.6, -0.8, -1.0, 0.2, 0.42, 0.6, 0.85], 12: [-0.35, -0.55, -0.75, -0.95, 0.2, 0.4, 0.6, 0.8, 1.0],
    9: [-0.4, -0.6, -0.8, -1.0, 0.15, 0.35, 0.55, 0.75, 0.95], 6: [-0.35, -0.55, -0.75, -0.95, 0.15, 0.35, 0.55, 0.75, 0.95],
    3: [-0.3, -0.5, -0.7, -0.9, 0.12, 0.3, 0.5, 0.7, 0.9, 1.0], 0: [-0.15, -0.3, -0.45, -0.6, -0.75, -0.9, 0.12, 0.28, 0.44, 0.6, 0.76, 0.9],
}
enc3_down_labels = [("TUBA1A", -4.68, 126), ("S100A4", -3.5, 105), ("S100A5", -5.21, 86), ("BGLAP", -6.85, 70), ("FABP4", -4.72, 52), ("BAX", -3.11, 40)]
enc3_up_labels = [("SNORC", 3.83, 181), ("MIA", 5.75, 164), ("COL2A1", 3.45, 134), ("COL11A1", 3.43, 118), ("PTH1R", 6.49, 95.5), ("ACAN", 7.51, 75), ("COL3A1", 4.64, 50), ("S100A1", 6.89, 33.5)]
enc3_links = [("down", -3.31, 98, -2.56, 66), ("down", -4.06, 81, -3.17, 64), ("down", -5.3, 68.6, -3.04, 56), ("down", -3.26, 53.5, -2.1, 57),
              ("up", 5.2, 133, 5.94, 133), ("up", 5.28, 119, 6.09, 119), ("up", 5.12, 56.5, 6.0, 60), ("up", 6.83, 41, 7.54, 48)]

enc4_down_x = [-1.49, -1.8, -3.66, -1.11, -1.22, -1.59, -1.26, -1.15, -1.06, -1.39, -1.27, -3.57, -1.63, -1.38, -1.41, -4.46, -1.34, -1.16, -1.59, -1.06, -2.27, -2.46, -1.76, -1.3, -1.85, -1.6, -1.44, -1.6, -1.25, -1.34, -1.1, -1.2]
enc4_down_y = [107, 91, 65, 61, 47, 44, 39, 34, 29, 28, 26, 24, 24, 25, 23, 21, 20, 19, 14, 13, 9, 7, 8, 8, 5, 7, 5, 3, 3.5, 0, 5, 1]
enc4_up_x = [5.52, 7.11, 2.2, 5.62, 4.56, 2.06, 1.76, 3.29, 2.08, 2.69, 7.39, 6.68, 2.37, 5.0, 1.2, 1.1, 1.66, 2.29, 2.87, 3.17, 1.27, 3.52, 1.11, 2.04, 1.17, 1.17, 1.59, 1.3, 1.81, 1.5, 1.36, 1.23, 1.17, 1.65, 1.1, 1.4]
enc4_up_y = [114, 111, 85, 82, 67, 50, 46, 45, 42, 38, 38, 36, 30, 32, 28, 29, 24, 23, 25, 25, 21, 20, 16, 12, 12, 10, 8, 7, 6, 5, 4, 2, 0.5, 6, 6, 7]
enc4_none = {
    73: [-1.0], 43: [-0.7, -0.65], 36: [-0.85], 33: [-0.65], 30: [-0.6, 0.95], 29: [-0.9, -0.55], 27: [-0.8, -0.65], 25: [-0.55],
    24: [0.55], 23: [0.6], 21: [-0.5, 0.75], 20: [-0.45], 18: [-0.9, -0.4, 0.95], 15: [-0.65, -0.45, 0.7], 14: [0.4, 0.95], 13: [-0.75, -0.4, 0.55, 0.8],
    10: [-0.4, -0.55, 0.3, 0.6, 0.9], 8: [-0.9, -0.7, -0.45, -0.3, 0.45, 0.7, 0.95], 6: [-1.0, -0.8, -0.6, -0.35, 0.35, 0.55, 0.8],
    4: [-0.9, -0.7, -0.5, -0.3, 0.3, 0.5, 0.7, 0.95], 2: [-1.0, -0.8, -0.6, -0.4, 0.25, 0.45, 0.65, 0.85],
    0: [-1.05, -0.9, -0.75, -0.6, -0.45, -0.3, 0.15, 0.3, 0.45, 0.6, 0.75, 0.9],
}
enc4_down_labels = [("RPL23", -3.02, 107), ("S100A4", -4.27, 59), ("S100A5", -3.73, 29.5), ("OAS2", -3.22, 15), ("BGLAP", -5.03, 7.3)]
enc4_up_labels = [("SNORC", 3.75, 112.4), ("MIA", 6.97, 105), ("COL2A1", 5.36, 87.7), ("COL11A1", 4.8, 72), ("COL3A1", 6.78, 46.8), ("ACAN", 4.93, 38), ("S100A1", 6.62, 23), ("CCDC80", 5.25, 11)]
enc4_links = [("down", -2.14, 15, -1.59, 14), ("down", -5.06, 11, -4.46, 21), ("up", 6.84, 41.7, 7.39, 38), ("up", 6.05, 38, 6.68, 36),
              ("up", 5.16, 24, 3.17, 25), ("up", 3.97, 16, 3.52, 20)]

# ---- panel D ----
go_clusters = ["Enc_1", "Enc_2", "Enc_3", "Enc_4"]
go_terms_down = ["Translation", "Signal transduction by p53 class mediator", "Proton motive force\u2212driven ATP synthesis",
                 "Peptide metabolic process", "Peptide biosynthetic process", "Nucleotide metabolic process"]
go_terms_up = ["Collagen fibril organization", "Circulatory system development", "Cellular component organization", "Cartilage development"]
nan = float("nan")
genes_down = [[16, 12, 18.5, 13], [2.6, nan, nan, nan], [nan, 2.6, nan, 5.3], [18.5, nan, 20, 16], [17, nan, 20, 14.5], [nan, nan, nan, 11]]
padj_down = [[10.0, 4.2, 7.5, 2.8], [1.5, nan, nan, nan], [nan, 1.6, nan, 2.5], [11.0, nan, 7.5, 3.5], [11.0, nan, 7.3, 3.5], [nan, nan, nan, 2.2]]
genes_up = [[9, 8, 7, 8], [nan, 20, 20, 18.5], [nan, nan, 52, nan], [9, 10, 10, nan]]
padj_up = [[3.0, 3.0, 2.8, 3.0], [nan, 2.2, 1.8, 2.2], [nan, nan, 3.8, nan], [2.0, 2.5, 2.5, nan]]
gene_legend = [10, 20, 30, 40, 50]

umap_colors = {"Enc_1": "#F8766D", "Enc_2": "#A3A500", "Enc_3": "#00BF7D", "Enc_4": "#00B0F6", "Enc_5": "#E76BF3"}
DOWN, NONE, UP = "#0B5A91", "#BEBEBE", "#EE0000"
DOWN_TXT = "#1A6399"

fig = plt.figure(figsize=(W / DPI, H / DPI), dpi=DPI, facecolor="white")


def box(l, t, r, b):
    return [l / W, 1 - b / H, (r - l) / W, (b - t) / H]


def area(d):
    # marker area in pt^2 from a diameter in pixels
    return (np.asarray(d) * 72 / DPI) ** 2


def flat(*row_sets):
    xs, ys = [], []
    for rows in row_sets:
        for y, row in rows.items():
            xs += row
            ys += [y] * len(row)
    return xs, ys


# overlay in pixel coords for panel letters and hand placed legends
ov = fig.add_axes([0, 0, 1, 1], zorder=10)
ov.set_xlim(0, W)
ov.set_ylim(H, 0)
ov.axis("off")


def put(x, y, s, size=14, ha="left", va="center", **kw):
    # va=center sits a little high against the reference, hence the +2
    ov.text(x, y + 2, s, fontsize=size, ha=ha, va=va, **kw)


for s, x, y in [("A", 63, 92), ("B", 1597, 74), ("C", 63, 963), ("D", 1886, 1113)]:
    put(x, y, s, size=23, ha="center")

# ---- A ----
sets = [(box(224, 96, 872, 749), [(at1_enc1, at1_enc1_fill), (at1_enc2, at1_enc2_fill), (at1_enc3, at1_enc3_fill), (at1_enc4,), (at1_enc5,)], umap_labels_at1),
        (box(894, 96, 1541, 749), [(at3_enc1, at3_enc1_fill), (at3_enc2, at3_enc2_fill), (at3_enc3,), (at3_enc4,), (at3_enc5,)], umap_labels_at3)]
for i, (pos, clusters, labels) in enumerate(sets):
    ax = fig.add_axes(pos)
    for name, rows in zip(marker_clusters, clusters):
        xs, ys = flat(*rows)
        ax.scatter(xs, ys, s=area(8.5), color=umap_colors[name], linewidths=0)
    for s, x, y in labels:
        ax.text(x, y, s, fontsize=16, ha="center", va="center")
    ax.set_xlim(-10.24, 9.15)
    ax.set_ylim(-4.66, 4.16)
    ax.set_xticks([-10, -5, 0, 5])
    ax.spines[["top", "right"]].set_visible(False)
    ax.spines["bottom"].set_linewidth(1.1)
    ax.spines["left"].set_linewidth(1.1)
    ax.tick_params(labelsize=14.5, width=1.1, length=5, pad=3.5)
    if i == 0:
        ax.set_yticks([-4, -2, 0, 2, 4])
    else:
        ax.spines["left"].set_visible(False)
        ax.set_yticks([])
put(549, 61, "AT1", size=17, ha="center")
put(1221, 61, "AT3", size=17, ha="center")
put(889, 864, "UMAP_1", size=17, ha="center")
put(112, 413, "UMAP_2", size=17, ha="center", rotation=90)

# ---- B ----
expr_cmap = LinearSegmentedColormap.from_list(
    "expr", [(0, "#C2C2C2"), (0.228, "#E6AA9C"), (0.398, "#FB8F7B"), (0.738, "#FF5A3C"), (1, "#FF0000")])
expr_norm = Normalize(-1.17, 1.77)


def pct_d(p):
    return 0.57 * np.asarray(p, dtype=float) + 4.5


facet_left = [1772, 2003, 2233, 2463, 2693]
for f, l in enumerate(facet_left):
    ax = fig.add_axes(box(l, 108, l + 218, 715))
    for g in (0, 1):
        k = 2 * f + g
        ys = [5, 4, 3, 2, 1]
        ax.scatter([g + 1] * 5, ys, s=area(pct_d(pct_expressed[k])), c=avg_expression[k],
                   cmap=expr_cmap, norm=expr_norm, linewidths=0, clip_on=False)
    ax.set_xlim(0.42, 2.6)
    ax.set_ylim(0.41, 5.59)
    ax.set_xticks([1, 2])
    ax.set_xticklabels(marker_genes[2 * f:2 * f + 2], rotation=45, ha="right", rotation_mode="anchor",
                       style="italic", fontsize=17)
    ax.tick_params(axis="x", width=1, length=6, pad=4)
    if f == 0:
        ax.set_yticks([1, 2, 3, 4, 5])
        ax.set_yticklabels(marker_rows, fontsize=16.5)
        ax.tick_params(axis="y", width=1, length=5.5, pad=4)
    else:
        ax.set_yticks([])
    for sp in ax.spines.values():
        sp.set_linewidth(0.8)
    put(l + 109, 65, marker_clusters[f], size=16, ha="center")

put(2943, 90, "Percent Expressed")
for p, y in zip(pct_legend, [148, 208, 267, 328]):
    ov.scatter([2975], [y], s=area(pct_d(p)), color="black", linewidths=0)
    put(3032, y, str(p), size=13.5)
put(2943, 416, "Average Expression")


def colorbar(pos, cmap, norm, ticks, lx):
    cax = fig.add_axes(pos)
    cb = fig.colorbar(ScalarMappable(norm=norm, cmap=cmap), cax=cax)
    cb.outline.set_visible(False)
    cb.set_ticks(ticks)
    cax.tick_params(length=0, labelsize=13.5, pad=lx)
    for t in ticks:
        cax.plot([0, 0.2], [t, t], color="white", lw=0.6)
        cax.plot([0.8, 1], [t, t], color="white", lw=0.6)


colorbar(box(2943, 445, 3003, 742), expr_cmap, expr_norm, [-1, 0, 1], 8)

# ---- C ----
panels = [
    dict(pos=(281, 1011, 848, 1536), xlim=(-5.64, 8.64), ylim=(-12, 261.6), xt=[-5, 0, 5], yt=[0, 50, 100, 150, 200, 250],
         title="Enc_1", tx=568, ty=921, ly=980, keys=(302, 530, 680), txts=(326, 554, 705), counts=("Down (30)", "None", "Up (66)"),
         down=(enc1_down_x, enc1_down_y), up=(enc1_up_x, enc1_up_y), none=enc1_none, dl=enc1_down_labels, ul=enc1_up_labels,
         links=enc1_links, hline=1.3, ylab=(141, 1260), xlab=None, up_size=10.8),
    dict(pos=(991, 1011, 1558, 1536), xlim=(-8.87, 10.86), ylim=(-13.6, 293.7), xt=[-5, 0, 5, 10], yt=[0, 100, 200],
         title="Enc_2", tx=1280, ty=921, ly=984, keys=(998, 1225, 1376), txts=(1022, 1250, 1400), counts=("Down (49)", "None", "Up (79)"),
         down=(enc2_down_x, enc2_down_y), up=(enc2_up_x, enc2_up_y), none=enc2_none, dl=enc2_down_labels, ul=enc2_up_labels,
         links=enc2_links, hline=1.3, ylab=None, xlab=None, up_size=10.8),
    dict(pos=(281, 1732, 848, 2257), xlim=(-8.79, 8.79), ylim=(-9.2, 196.9), xt=[-5, 0, 5], yt=[0, 50, 100, 150],
         title="Enc_3", tx=569, ty=1648, ly=1705, keys=(302, 530, 680), txts=(326, 554, 705), counts=("Down (76)", "None", "Up (107)"),
         down=(enc3_down_x, enc3_down_y), up=(enc3_up_x, enc3_up_y), none=enc3_none, dl=enc3_down_labels, ul=enc3_up_labels,
         links=enc3_links, hline=1.3, ylab=(141, 1980), xlab=577, up_size=9.7),
    dict(pos=(990, 1732, 1563, 2257), xlim=(-6.69, 8.37), ylim=(-5.6, 119.6), xt=[-4, 0, 4, 8], yt=[0, 30, 60, 90],
         title="Enc_4", tx=1288, ty=1648, ly=1705, keys=(1007, 1234, 1385), txts=(1031, 1258, 1409), counts=("Down (54)", "None", "Up (75)"),
         down=(enc4_down_x, enc4_down_y), up=(enc4_up_x, enc4_up_y), none=enc4_none, dl=enc4_down_labels, ul=enc4_up_labels,
         links=enc4_links, hline=None, ylab=None, xlab=1297, up_size=10.8),
]
for p in panels:
    ax = fig.add_axes(box(*p["pos"]))
    xs, ys = flat(p["none"])
    ax.scatter(xs, ys, s=area(12), color=NONE, linewidths=0, zorder=2)
    ax.scatter(*p["down"], s=area(12), color=DOWN, linewidths=0, zorder=2)
    ax.scatter(*p["up"], s=area(12), color=UP, linewidths=0, zorder=2)
    dash = (0, (5, 3.5))
    ax.axvline(-1, color="black", lw=1, ls=dash, zorder=3)
    ax.axvline(1, color="black", lw=1, ls=dash, zorder=3)
    if p["hline"] is not None:
        ax.axhline(p["hline"], color="black", lw=1, ls=dash, zorder=3)
    for s, x, y in p["dl"]:
        ax.text(x, y, s, color=DOWN_TXT, fontsize=10.8, ha="center", va="center", zorder=4)
    for s, x, y in p["ul"]:
        ax.text(x, y, s, color=UP, fontsize=p["up_size"], ha="center", va="center", zorder=4)
    for side, x0, y0, x1, y1 in p["links"]:
        ax.plot([x0, x1], [y0, y1], color=DOWN_TXT if side == "down" else UP, lw=0.6, zorder=3)
    ax.set_xlim(*p["xlim"])
    ax.set_ylim(*p["ylim"])
    ax.set_xticks(p["xt"])
    ax.set_yticks(p["yt"])
    ax.tick_params(labelsize=12, width=1.1, length=9, pad=2.5)
    for sp in ax.spines.values():
        sp.set_linewidth(0.7)
        sp.set_color("#333333")
    put(p["tx"], p["ty"], p["title"], size=15.4, ha="center", fontweight="bold")
    for kx, tx, s, c in zip(p["keys"], p["txts"], p["counts"], (DOWN, NONE, UP)):
        ov.scatter([kx], [p["ly"]], s=area(11), color=c, linewidths=0)
        put(tx, p["ly"], s, size=13.3)
    if p["ylab"]:
        put(p["ylab"][0], p["ylab"][1], "\u2212log10 (P_value)", size=15.8, ha="center", rotation=90)
    if p["xlab"]:
        put(p["xlab"], 2352, "log2 (fold change)", size=15.8, ha="center")

# ---- D ----
go_cmap = LinearSegmentedColormap.from_list("go", [(0, "#FF0000"), (0.2, "#E8002F"), (0.5, "#A00055"), (1, "#3F0071")])
go_norm = Normalize(1.35, 11.36)


def gene_d(n):
    return np.sqrt(20 + 38.4 * np.asarray(n, dtype=float))


def go_panel(t, b, terms, genes, padj, strip, strip_y):
    ax = fig.add_axes(box(2423, t, 2914, b))
    rows = np.arange(1, len(terms) + 1)
    ax.set_axisbelow(True)
    ax.grid(color="#EBEBEB", lw=1)
    for i, r in enumerate(rows):
        for j in range(4):
            if genes[i][j] == genes[i][j]:
                ax.scatter([j + 1], [r], s=area(gene_d(genes[i][j])), c=[padj[i][j]], cmap=go_cmap, norm=go_norm,
                           linewidths=0, zorder=3)
    ax.set_xlim(0.42, 4.6)
    ax.set_ylim(len(terms) + 0.6, 0.4)
    ax.set_yticks(rows)
    ax.set_yticklabels(terms, fontsize=15.4)
    ax.set_xticks([1, 2, 3, 4])
    ax.tick_params(axis="y", width=0.8, length=3.6, pad=4, color="#333333")
    ax.tick_params(axis="x", width=0.8, length=3.6, pad=4, color="#333333")
    if strip == "Up":
        ax.set_xticklabels(go_clusters, rotation=32, ha="right", rotation_mode="anchor", style="italic", fontsize=16.5)
        shift = ScaledTranslation(18 / DPI, -12 / DPI, fig.dpi_scale_trans)
        for lab in ax.get_xticklabels():
            lab.set_transform(lab.get_transform() + shift)
    else:
        ax.tick_params(axis="x", length=0, labelbottom=False)
    for sp in ax.spines.values():
        sp.set_linewidth(0.8)
        sp.set_color("#444444")
    ov.add_patch(Rectangle((2914, t), 53, b - t, facecolor="#D9D9D9", edgecolor="#444444", lw=0.8))
    put(2940, strip_y, strip, size=15, ha="center", rotation=-90)


go_panel(1146, 1685, go_terms_down, genes_down, padj_down, "Down", 1419)
go_panel(1703, 2068, go_terms_up, genes_up, padj_up, "Up", 1870)

put(3007, 1275, "-log$_{10}$(p.adjust)", size=14)
colorbar(box(3019, 1312, 3071, 1579), go_cmap, go_norm, [3, 6, 9], 7)
put(3019, 1666, "gene_number")
for n, y in zip(gene_legend, [1727, 1781, 1834, 1888, 1941]):
    ov.scatter([3046], [y], s=area(gene_d(n)), color="black", linewidths=0)
    put(3088, y, str(n), size=13.5)

fig.savefig("out.png", dpi=DPI)
